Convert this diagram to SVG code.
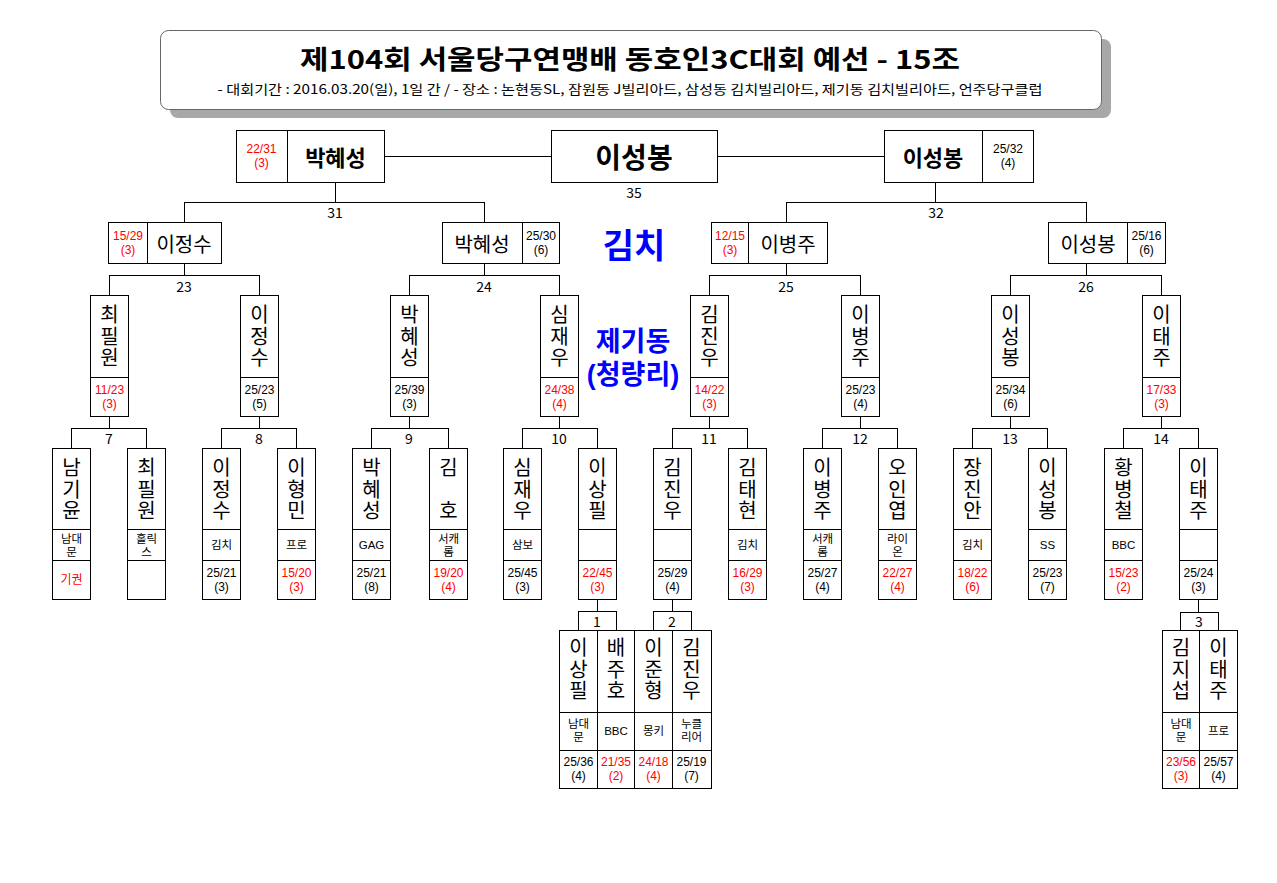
<svg xmlns="http://www.w3.org/2000/svg" width="1277" height="883" viewBox="0 0 1277 883">
<style>
.box{fill:#fff;stroke:#000;stroke-width:1}
.ln{fill:none;stroke:#000;stroke-width:1}
text{font-family:"Noto Sans CJK KR","Noto Sans",sans-serif;text-anchor:middle;dominant-baseline:central;fill:#000}
.nm{font-size:20px}
.v{font-size:20px;writing-mode:vertical-rl;text-orientation:upright;letter-spacing:1.5px}
.sc{font-size:12px;font-family:"Liberation Sans","Noto Sans CJK KR",sans-serif}
.cl{font-size:11.5px;font-family:"Liberation Sans","Noto Sans CJK KR",sans-serif}
.lb{font-size:14px}
.r{fill:#ff0000}
.big{font-weight:bold}
.blue{fill:#0000ff;font-weight:bold}
.bl2{font-family:"Liberation Sans","Noto Sans CJK KR",sans-serif;font-size:27px}
</style>
<rect width="1277" height="883" fill="#fff"/>
<g id="header">
<rect x="170" y="39" width="941" height="79" rx="8" fill="#a8a8a8"/>
<rect x="160.5" y="30.5" width="941" height="79" rx="8" fill="#fff" stroke="#666"/>
<text x="630" y="57" font-size="26" font-weight="bold" textLength="660" lengthAdjust="spacingAndGlyphs">제104회 서울당구연맹배 동호인3C대회 예선 - 15조</text>
<text x="630" y="88" font-size="13" textLength="825" lengthAdjust="spacingAndGlyphs">- 대회기간 : 2016.03.20(일), 1일 간 / - 장소 : 논현동SL, 잠원동 J빌리아드, 삼성동 김치빌리아드, 제기동 김치빌리아드, 언주당구클럽</text>
</g>
<g id="venue">
<text class="blue" x="634" y="243" font-size="34">김치</text>
<text class="blue bl2" x="633" y="342">제기동</text>
<text class="blue bl2" x="633" y="375">(청량리)</text>
</g>
<g id="connectors" class="ln" shape-rendering="crispEdges">
<path d="M384 156.5H551M717 156.5H884"/>
<path d="M335.5 182V202.5M184.5 222V202.5H484.5V222"/>
<path d="M935.5 182V202.5M786.5 222V202.5H1086.5V222"/>
<path d="M184.5 263V275.5M109.5 295V275.5H259.5V295"/>
<path d="M484.5 263V275.5M409.5 295V275.5H559.5V295"/>
<path d="M786.5 263V275.5M709.5 295V275.5H860.5V295"/>
<path d="M1086.5 263V275.5M1010.5 295V275.5H1161.5V295"/>
<path d="M109.5 416V428.5M71.5 448V428.5H146.5V448"/>
<path d="M259.5 416V428.5M221.5 448V428.5H296.5V448"/>
<path d="M409.5 416V428.5M371.5 448V428.5H448.5V448"/>
<path d="M559.5 416V428.5M522.5 448V428.5H597.5V448"/>
<path d="M709.5 416V428.5M672.5 448V428.5H747.5V448"/>
<path d="M860.5 416V428.5M822.5 448V428.5H897.5V448"/>
<path d="M1010.5 416V428.5M972.5 448V428.5H1047.5V448"/>
<path d="M1161.5 416V428.5M1123.5 448V428.5H1198.5V448"/>
<path d="M597.5 599V611.5M578.5 630V611.5H616.5V630"/>
<path d="M672.5 599V611.5M653.5 630V611.5H691.5V630"/>
<path d="M1198.5 599V612.5M1180.5 630V612.5H1218.5V630"/>
</g>
<g id="labels" class="lb">
<text x="634" y="192">35</text>
<text x="335" y="212">31</text>
<text x="936" y="212">32</text>
<text x="184" y="286">23</text>
<text x="484" y="286">24</text>
<text x="786" y="286">25</text>
<text x="1086" y="286">26</text>
<text x="109" y="438">7</text>
<text x="259" y="438">8</text>
<text x="409" y="438">9</text>
<text x="559" y="438">10</text>
<text x="709" y="438">11</text>
<text x="860" y="438">12</text>
<text x="1010" y="438">13</text>
<text x="1161" y="438">14</text>
<text x="597" y="621">1</text>
<text x="672" y="621">2</text>
<text x="1199" y="621">3</text>
</g>
<g id="final" shape-rendering="crispEdges">
<rect class="box" x="551.5" y="130.5" width="166" height="52"/>
<text class="big" x="634" y="156" font-size="28">이성봉</text>
</g>
<g id="sf-left">
<rect class="box" x="236.5" y="130.5" width="148" height="52" shape-rendering="crispEdges"/>
<line class="ln" x1="287.5" y1="130" x2="287.5" y2="182" shape-rendering="crispEdges"/>
<text class="sc r" x="261.5" y="149">22/31</text><text class="sc r" x="261.5" y="163">(3)</text>
<text class="big" x="335.5" y="156" font-size="22">박혜성</text>
</g>
<g id="sf-right">
<rect class="box" x="884.5" y="130.5" width="149" height="52" shape-rendering="crispEdges"/>
<line class="ln" x1="982.5" y1="130" x2="982.5" y2="182" shape-rendering="crispEdges"/>
<text class="big" x="933" y="156" font-size="22">이성봉</text>
<text class="sc" x="1008" y="149">25/32</text><text class="sc" x="1008" y="163">(4)</text>
</g>
<g id="qf1">
<rect class="box" x="108.5" y="222.5" width="113" height="41" shape-rendering="crispEdges"/>
<line class="ln" x1="147.5" y1="222" x2="147.5" y2="263" shape-rendering="crispEdges"/>
<text class="sc r" x="128" y="236">15/29</text><text class="sc r" x="128" y="250">(3)</text>
<text class="nm" x="184" y="243">이정수</text>
</g>
<g id="qf2">
<rect class="box" x="442.5" y="222.5" width="117" height="41" shape-rendering="crispEdges"/>
<line class="ln" x1="522.5" y1="222" x2="522.5" y2="263" shape-rendering="crispEdges"/>
<text class="nm" x="482" y="243">박혜성</text>
<text class="sc" x="541" y="236">25/30</text><text class="sc" x="541" y="250">(6)</text>
</g>
<g id="qf3">
<rect class="box" x="711.5" y="222.5" width="116" height="41" shape-rendering="crispEdges"/>
<line class="ln" x1="748.5" y1="222" x2="748.5" y2="263" shape-rendering="crispEdges"/>
<text class="sc r" x="730" y="236">12/15</text><text class="sc r" x="730" y="250">(3)</text>
<text class="nm" x="788" y="243">이병주</text>
</g>
<g id="qf4">
<rect class="box" x="1048.5" y="222.5" width="117" height="41" shape-rendering="crispEdges"/>
<line class="ln" x1="1127.5" y1="222" x2="1127.5" y2="263" shape-rendering="crispEdges"/>
<text class="nm" x="1088" y="243">이성봉</text>
<text class="sc" x="1146.5" y="236">25/16</text><text class="sc" x="1146.5" y="250">(6)</text>
</g>
<g id="r16-1"><rect class="box" x="90.5" y="295.5" width="38" height="121" shape-rendering="crispEdges"/><line class="ln" x1="90" y1="377.5" x2="128" y2="377.5" shape-rendering="crispEdges"/>
<text class="v" x="109.5" y="337">최필원</text>
<text class="sc r" x="109.5" y="389.5">11/23</text><text class="sc r" x="109.5" y="403.5">(3)</text></g>
<g id="r16-2"><rect class="box" x="240.5" y="295.5" width="38" height="121" shape-rendering="crispEdges"/><line class="ln" x1="240" y1="377.5" x2="278" y2="377.5" shape-rendering="crispEdges"/>
<text class="v" x="259.5" y="337">이정수</text>
<text class="sc" x="259.5" y="389.5">25/23</text><text class="sc" x="259.5" y="403.5">(5)</text></g>
<g id="r16-3"><rect class="box" x="390.5" y="295.5" width="38" height="121" shape-rendering="crispEdges"/><line class="ln" x1="390" y1="377.5" x2="428" y2="377.5" shape-rendering="crispEdges"/>
<text class="v" x="409.5" y="337">박혜성</text>
<text class="sc" x="409.5" y="389.5">25/39</text><text class="sc" x="409.5" y="403.5">(3)</text></g>
<g id="r16-4"><rect class="box" x="540.5" y="295.5" width="38" height="121" shape-rendering="crispEdges"/><line class="ln" x1="540" y1="377.5" x2="578" y2="377.5" shape-rendering="crispEdges"/>
<text class="v" x="559.5" y="337">심재우</text>
<text class="sc r" x="559.5" y="389.5">24/38</text><text class="sc r" x="559.5" y="403.5">(4)</text></g>
<g id="r16-5"><rect class="box" x="690.5" y="295.5" width="38" height="121" shape-rendering="crispEdges"/><line class="ln" x1="690" y1="377.5" x2="728" y2="377.5" shape-rendering="crispEdges"/>
<text class="v" x="709.5" y="337">김진우</text>
<text class="sc r" x="709.5" y="389.5">14/22</text><text class="sc r" x="709.5" y="403.5">(3)</text></g>
<g id="r16-6"><rect class="box" x="841.5" y="295.5" width="38" height="121" shape-rendering="crispEdges"/><line class="ln" x1="841" y1="377.5" x2="879" y2="377.5" shape-rendering="crispEdges"/>
<text class="v" x="860.5" y="337">이병주</text>
<text class="sc" x="860.5" y="389.5">25/23</text><text class="sc" x="860.5" y="403.5">(4)</text></g>
<g id="r16-7"><rect class="box" x="991.5" y="295.5" width="38" height="121" shape-rendering="crispEdges"/><line class="ln" x1="991" y1="377.5" x2="1029" y2="377.5" shape-rendering="crispEdges"/>
<text class="v" x="1010.5" y="337">이성봉</text>
<text class="sc" x="1010.5" y="389.5">25/34</text><text class="sc" x="1010.5" y="403.5">(6)</text></g>
<g id="r16-8"><rect class="box" x="1142.5" y="295.5" width="38" height="121" shape-rendering="crispEdges"/><line class="ln" x1="1142" y1="377.5" x2="1180" y2="377.5" shape-rendering="crispEdges"/>
<text class="v" x="1161.5" y="337">이태주</text>
<text class="sc r" x="1161.5" y="389.5">17/33</text><text class="sc r" x="1161.5" y="403.5">(3)</text></g>
<g id="p1"><rect class="box" x="52.5" y="448.5" width="38" height="151" shape-rendering="crispEdges"/><path class="ln" d="M52 529.5H90M52 560.5H90" shape-rendering="crispEdges"/>
<text class="v" x="71.5" y="490">남기윤</text>
<text class="cl" x="71.5" y="538.5">남대</text><text class="cl" x="71.5" y="551.5">문</text>
<text class="sc r" x="71.5" y="580">기권</text></g>
<g id="p2"><rect class="box" x="127.5" y="448.5" width="38" height="151" shape-rendering="crispEdges"/><path class="ln" d="M127 529.5H165M127 560.5H165" shape-rendering="crispEdges"/>
<text class="v" x="146.5" y="490">최필원</text>
<text class="cl" x="146.5" y="538.5">홀릭</text><text class="cl" x="146.5" y="551.5">스</text></g>
<g id="p3"><rect class="box" x="202.5" y="448.5" width="38" height="151" shape-rendering="crispEdges"/><path class="ln" d="M202 529.5H240M202 560.5H240" shape-rendering="crispEdges"/>
<text class="v" x="221.5" y="490">이정수</text>
<text class="cl" x="221.5" y="545">김치</text>
<text class="sc" x="221.5" y="572.5">25/21</text><text class="sc" x="221.5" y="586.5">(3)</text></g>
<g id="p4"><rect class="box" x="277.5" y="448.5" width="38" height="151" shape-rendering="crispEdges"/><path class="ln" d="M277 529.5H315M277 560.5H315" shape-rendering="crispEdges"/>
<text class="v" x="296.5" y="490">이형민</text>
<text class="cl" x="296.5" y="545">프로</text>
<text class="sc r" x="296.5" y="572.5">15/20</text><text class="sc r" x="296.5" y="586.5">(3)</text></g>
<g id="p5"><rect class="box" x="352.5" y="448.5" width="38" height="151" shape-rendering="crispEdges"/><path class="ln" d="M352 529.5H390M352 560.5H390" shape-rendering="crispEdges"/>
<text class="v" x="371.5" y="490">박혜성</text>
<text class="cl" x="371.5" y="545">GAG</text>
<text class="sc" x="371.5" y="572.5">25/21</text><text class="sc" x="371.5" y="586.5">(8)</text></g>
<g id="p6"><rect class="box" x="429.5" y="448.5" width="38" height="151" shape-rendering="crispEdges"/><path class="ln" d="M429 529.5H467M429 560.5H467" shape-rendering="crispEdges"/>
<text class="v" x="448.5" y="490">김　호</text>
<text class="cl" x="448.5" y="538.5">서캐</text><text class="cl" x="448.5" y="551.5">롬</text>
<text class="sc r" x="448.5" y="572.5">19/20</text><text class="sc r" x="448.5" y="586.5">(4)</text></g>
<g id="p7"><rect class="box" x="503.5" y="448.5" width="38" height="151" shape-rendering="crispEdges"/><path class="ln" d="M503 529.5H541M503 560.5H541" shape-rendering="crispEdges"/>
<text class="v" x="522.5" y="490">심재우</text>
<text class="cl" x="522.5" y="545">삼보</text>
<text class="sc" x="522.5" y="572.5">25/45</text><text class="sc" x="522.5" y="586.5">(3)</text></g>
<g id="p8"><rect class="box" x="578.5" y="448.5" width="38" height="151" shape-rendering="crispEdges"/><path class="ln" d="M578 529.5H616M578 560.5H616" shape-rendering="crispEdges"/>
<text class="v" x="597.5" y="490">이상필</text>
<text class="sc r" x="597.5" y="572.5">22/45</text><text class="sc r" x="597.5" y="586.5">(3)</text></g>
<g id="p9"><rect class="box" x="653.5" y="448.5" width="38" height="151" shape-rendering="crispEdges"/><path class="ln" d="M653 529.5H691M653 560.5H691" shape-rendering="crispEdges"/>
<text class="v" x="672.5" y="490">김진우</text>
<text class="sc" x="672.5" y="572.5">25/29</text><text class="sc" x="672.5" y="586.5">(4)</text></g>
<g id="p10"><rect class="box" x="728.5" y="448.5" width="38" height="151" shape-rendering="crispEdges"/><path class="ln" d="M728 529.5H766M728 560.5H766" shape-rendering="crispEdges"/>
<text class="v" x="747.5" y="490">김태현</text>
<text class="cl" x="747.5" y="545">김치</text>
<text class="sc r" x="747.5" y="572.5">16/29</text><text class="sc r" x="747.5" y="586.5">(3)</text></g>
<g id="p11"><rect class="box" x="803.5" y="448.5" width="38" height="151" shape-rendering="crispEdges"/><path class="ln" d="M803 529.5H841M803 560.5H841" shape-rendering="crispEdges"/>
<text class="v" x="822.5" y="490">이병주</text>
<text class="cl" x="822.5" y="538.5">서캐</text><text class="cl" x="822.5" y="551.5">롬</text>
<text class="sc" x="822.5" y="572.5">25/27</text><text class="sc" x="822.5" y="586.5">(4)</text></g>
<g id="p12"><rect class="box" x="878.5" y="448.5" width="38" height="151" shape-rendering="crispEdges"/><path class="ln" d="M878 529.5H916M878 560.5H916" shape-rendering="crispEdges"/>
<text class="v" x="897.5" y="490">오인엽</text>
<text class="cl" x="897.5" y="538.5">라이</text><text class="cl" x="897.5" y="551.5">온</text>
<text class="sc r" x="897.5" y="572.5">22/27</text><text class="sc r" x="897.5" y="586.5">(4)</text></g>
<g id="p13"><rect class="box" x="953.5" y="448.5" width="38" height="151" shape-rendering="crispEdges"/><path class="ln" d="M953 529.5H991M953 560.5H991" shape-rendering="crispEdges"/>
<text class="v" x="972.5" y="490">장진안</text>
<text class="cl" x="972.5" y="545">김치</text>
<text class="sc r" x="972.5" y="572.5">18/22</text><text class="sc r" x="972.5" y="586.5">(6)</text></g>
<g id="p14"><rect class="box" x="1028.5" y="448.5" width="38" height="151" shape-rendering="crispEdges"/><path class="ln" d="M1028 529.5H1066M1028 560.5H1066" shape-rendering="crispEdges"/>
<text class="v" x="1047.5" y="490">이성봉</text>
<text class="cl" x="1047.5" y="545">SS</text>
<text class="sc" x="1047.5" y="572.5">25/23</text><text class="sc" x="1047.5" y="586.5">(7)</text></g>
<g id="p15"><rect class="box" x="1104.5" y="448.5" width="38" height="151" shape-rendering="crispEdges"/><path class="ln" d="M1104 529.5H1142M1104 560.5H1142" shape-rendering="crispEdges"/>
<text class="v" x="1123.5" y="490">황병철</text>
<text class="cl" x="1123.5" y="545">BBC</text>
<text class="sc r" x="1123.5" y="572.5">15/23</text><text class="sc r" x="1123.5" y="586.5">(2)</text></g>
<g id="p16"><rect class="box" x="1179.5" y="448.5" width="38" height="151" shape-rendering="crispEdges"/><path class="ln" d="M1179 529.5H1217M1179 560.5H1217" shape-rendering="crispEdges"/>
<text class="v" x="1198.5" y="490">이태주</text>
<text class="sc" x="1198.5" y="572.5">25/24</text><text class="sc" x="1198.5" y="586.5">(3)</text></g>
<g id="pre12">
<rect class="box" x="559.5" y="630.5" width="152" height="158" shape-rendering="crispEdges"/>
<path class="ln" d="M597.5 630V788M634.5 630V788M672.5 630V788M559 712.5H711M559 750.5H711" shape-rendering="crispEdges"/>
<text class="v" x="578.5" y="670">이상필</text>
<text class="cl" x="578.5" y="724">남대</text><text class="cl" x="578.5" y="737">문</text>
<text class="sc" x="578.5" y="761.5">25/36</text><text class="sc" x="578.5" y="775.5">(4)</text>
<text class="v" x="616" y="670">배주호</text>
<text class="cl" x="616" y="731">BBC</text>
<text class="sc r" x="616" y="761.5">21/35</text><text class="sc r" x="616" y="775.5">(2)</text>
<text class="v" x="653.5" y="670">이준형</text>
<text class="cl" x="653.5" y="731">몽키</text>
<text class="sc r" x="653.5" y="761.5">24/18</text><text class="sc r" x="653.5" y="775.5">(4)</text>
<text class="v" x="691.5" y="670">김진우</text>
<text class="cl" x="691.5" y="724">누클</text><text class="cl" x="691.5" y="737">리어</text>
<text class="sc" x="691.5" y="761.5">25/19</text><text class="sc" x="691.5" y="775.5">(7)</text>
</g>
<g id="pre3">
<rect class="box" x="1162.5" y="630.5" width="75" height="158" shape-rendering="crispEdges"/>
<path class="ln" d="M1199.5 630V788M1162 712.5H1237M1162 750.5H1237" shape-rendering="crispEdges"/>
<text class="v" x="1181" y="670">김지섭</text>
<text class="cl" x="1181" y="724">남대</text><text class="cl" x="1181" y="737">문</text>
<text class="sc r" x="1181" y="761.5">23/56</text><text class="sc r" x="1181" y="775.5">(3)</text>
<text class="v" x="1218.5" y="670">이태주</text>
<text class="cl" x="1218.5" y="731">프로</text>
<text class="sc" x="1218.5" y="761.5">25/57</text><text class="sc" x="1218.5" y="775.5">(4)</text>
</g>
</svg>
